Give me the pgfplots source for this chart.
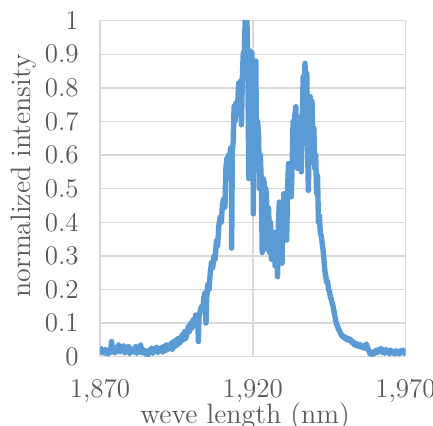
\documentclass[border=0pt]{standalone}
\usepackage{pgfplots}
\pgfplotsset{compat=1.18}
\definecolor{lineblue}{HTML}{5B9BD5}
\definecolor{gridgray}{HTML}{D9D9D9}
\definecolor{txt}{HTML}{595959}

\pgfplotstableread{
x y
1870.0 0.030
1870.3 0.018
1870.7 0.012
1871.0 0.020
1871.4 0.010
1871.8 0.022
1872.2 0.015
1872.6 0.008
1873.0 0.018
1873.4 0.012
1873.8 0.045
1874.1 0.015
1874.5 0.028
1874.9 0.012
1875.3 0.025
1875.7 0.018
1876.1 0.035
1876.5 0.015
1876.9 0.030
1877.3 0.020
1877.7 0.032
1878.1 0.012
1878.5 0.028
1878.9 0.018
1879.3 0.030
1879.7 0.010
1880.1 0.025
1880.5 0.015
1880.9 0.022
1881.3 0.012
1881.7 0.030
1882.1 0.010
1882.5 0.020
1882.9 0.014
1883.3 0.035
1883.7 0.012
1884.1 0.022
1884.5 0.010
1884.9 0.018
1885.3 0.008
1885.7 0.005
1886.1 0.020
1886.5 0.012
1886.9 0.025
1887.3 0.010
1887.7 0.022
1888.1 0.015
1888.5 0.028
1888.9 0.012
1889.3 0.020
1889.7 0.018
1890.1 0.028
1890.5 0.014
1890.9 0.030
1891.3 0.018
1891.7 0.035
1892.1 0.020
1892.5 0.032
1892.9 0.025
1893.3 0.040
1893.7 0.022
1894.1 0.045
1894.5 0.030
1894.9 0.050
1895.3 0.035
1895.7 0.055
1896.1 0.040
1896.5 0.048
1896.9 0.065
1897.3 0.050
1897.7 0.075
1898.1 0.055
1898.5 0.070
1898.9 0.090
1899.3 0.075
1899.7 0.100
1900.1 0.085
1900.5 0.110
1900.9 0.095
1901.3 0.124
1901.7 0.110
1902.0 0.120
1902.2 0.045
1902.4 0.118
1902.8 0.135
1903.2 0.150
1903.6 0.140
1904.0 0.175
1904.4 0.190
1904.7 0.100
1904.9 0.170
1905.3 0.215
1905.7 0.200
1906.1 0.250
1906.5 0.280
1906.9 0.265
1907.3 0.300
1907.7 0.290
1908.1 0.345
1908.5 0.330
1908.9 0.390
1909.3 0.415
1909.7 0.400
1910.1 0.455
1910.5 0.470
1910.9 0.445
1911.2 0.560
1911.5 0.590
1911.8 0.545
1912.1 0.600
1912.4 0.580
1912.7 0.620
1913.0 0.600
1913.1 0.323
1913.3 0.610
1913.6 0.640
1913.9 0.745
1914.2 0.700
1914.5 0.755
1914.8 0.720
1915.1 0.760
1915.4 0.815
1915.7 0.790
1916.0 0.820
1916.3 0.690
1916.6 0.830
1916.9 0.905
1917.2 0.870
1917.5 1.000
1917.8 0.940
1918.1 1.000
1918.4 0.850
1918.7 0.530
1918.9 0.760
1919.1 0.910
1919.4 0.880
1919.7 0.905
1920.0 0.750
1920.2 0.425
1920.4 0.870
1920.7 0.800
1921.0 0.880
1921.3 0.560
1921.6 0.700
1921.9 0.660
1922.2 0.500
1922.5 0.600
1922.8 0.520
1923.1 0.310
1923.4 0.530
1923.7 0.520
1924.0 0.320
1924.3 0.500
1924.6 0.450
1924.9 0.320
1925.2 0.442
1925.5 0.310
1925.8 0.400
1926.1 0.290
1926.4 0.370
1926.7 0.330
1927.0 0.370
1927.3 0.270
1927.6 0.360
1927.9 0.300
1928.1 0.238
1928.4 0.390
1928.7 0.460
1929.0 0.350
1929.3 0.440
1929.6 0.278
1929.9 0.420
1930.2 0.485
1930.5 0.400
1930.8 0.440
1931.1 0.347
1931.4 0.500
1931.7 0.575
1932.0 0.480
1932.3 0.560
1932.6 0.476
1932.9 0.570
1933.2 0.700
1933.5 0.600
1933.8 0.720
1934.1 0.744
1934.4 0.640
1934.7 0.560
1935.0 0.700
1935.3 0.680
1935.6 0.714
1935.9 0.550
1936.2 0.700
1936.5 0.833
1936.8 0.780
1937.1 0.873
1937.4 0.800
1937.7 0.843
1938.0 0.600
1938.2 0.495
1938.5 0.650
1938.8 0.774
1939.1 0.700
1939.4 0.760
1939.7 0.625
1940.0 0.680
1940.3 0.560
1940.6 0.600
1940.9 0.486
1941.2 0.540
1941.5 0.400
1941.8 0.420
1942.1 0.370
1942.4 0.360
1942.7 0.340
1943.0 0.320
1943.3 0.290
1943.6 0.255
1943.9 0.240
1944.2 0.220
1944.5 0.225
1944.8 0.200
1945.1 0.195
1945.4 0.180
1945.7 0.170
1946.0 0.160
1946.3 0.150
1946.6 0.135
1946.9 0.120
1947.2 0.105
1947.5 0.095
1947.8 0.090
1948.1 0.080
1948.4 0.078
1948.7 0.070
1949.0 0.065
1949.3 0.060
1949.6 0.062
1950.0 0.055
1950.4 0.058
1950.8 0.050
1951.2 0.055
1951.6 0.048
1952.0 0.052
1952.4 0.042
1952.8 0.045
1953.2 0.035
1953.6 0.040
1954.0 0.032
1954.4 0.038
1954.8 0.030
1955.2 0.036
1955.6 0.028
1956.0 0.032
1956.4 0.025
1956.8 0.030
1957.2 0.038
1957.6 0.025
1958.0 0.018
1958.4 0.008
1958.8 0.012
1959.2 0.005
1959.6 0.015
1960.0 0.010
1960.4 0.020
1960.8 0.012
1961.2 0.022
1961.6 0.015
1962.0 0.025
1962.4 0.012
1962.8 0.020
1963.2 0.010
1963.6 0.022
1964.0 0.012
1964.4 0.018
1964.8 0.008
1965.2 0.020
1965.6 0.012
1966.0 0.015
1966.4 0.008
1966.8 0.018
1967.2 0.010
1967.6 0.016
1968.0 0.008
1968.4 0.018
1968.8 0.012
1969.2 0.020
1969.6 0.010
1970.0 0.018
}\spectrum

\begin{document}
\begin{tikzpicture}
\begin{axis}[
  at={(0,0)}, anchor=south west,
  scale only axis, width=152.75pt, height=168pt,
  xmin=1870, xmax=1970, ymin=0, ymax=1,
  xtick={1870,1920,1970}, xticklabels={{1,870},{1,920},{1,970}},
  ytick={0,0.1,...,1.01},
  yticklabels={0,0.1,0.2,0.3,0.4,0.5,0.6,0.7,0.8,0.9,1},
  major tick length=0pt,
  grid=major,
  major grid style={gridgray, line width=0.75pt},
  axis line style={gridgray, line width=0.75pt},
  ticklabel style={font=\fontsize{13.5}{16}\selectfont, text=txt, inner sep=0pt},
  xticklabel shift=11pt,
  yticklabel shift=10.5pt,
  xlabel={weve length (nm)},
  ylabel={normalized intensity},
  label style={font=\fontsize{14}{16}\selectfont, text=txt, inner sep=0pt},
  xlabel style={at={(axis description cs:0.475,0)}, anchor=north, yshift=-22.5pt},
  ylabel style={at={(axis description cs:-0.226,0.538)}, anchor=base, rotate=0},
]
\addplot[color=lineblue, line width=2.7pt, line join=round, no markers] table[x=x, y=y] {\spectrum};
\end{axis}
\pgfresetboundingbox
\path (-50pt,-34.65pt) rectangle (166.5pt,178.35pt);
\end{tikzpicture}
\end{document}
